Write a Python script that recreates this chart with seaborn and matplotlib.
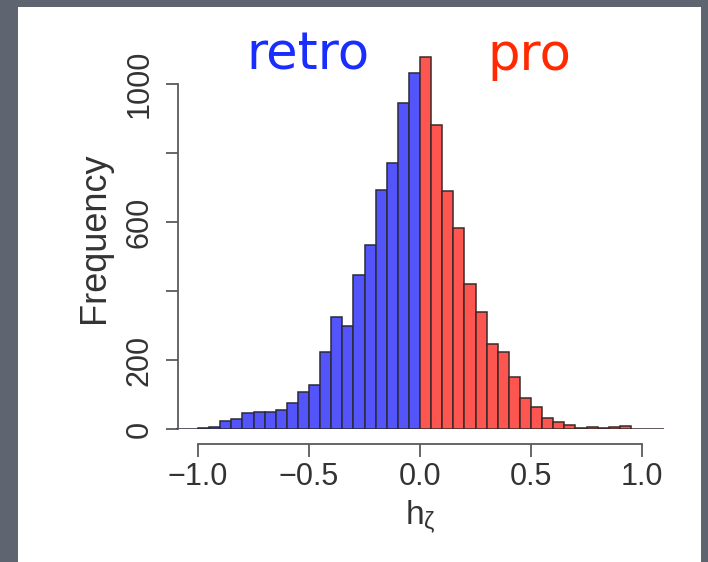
import matplotlib
matplotlib.use('Agg')
import matplotlib.pyplot as plt
import seaborn as sns
import numpy as np
import pandas as pd
from matplotlib.patches import Rectangle

# ---- data ----
bin_width = 0.05
retro_start = -1.1   # left edge of first retro bin
retro_counts = [0, 1, 2, 7, 23, 29, 47, 50, 50, 54, 75, 106, 128, 224, 325, 298,
                446, 533, 693, 770, 944, 1033]
pro_counts = [1079, 881, 690, 582, 420, 338, 245, 222, 152, 91, 65, 33, 19, 12,
              2, 5, 2, 5, 10, 0, 0, 0]
x_ticks = [-1.0, -0.5, 0.0, 0.5, 1.0]
x_tick_labels = ['\u22121.0', '\u22120.5', '0.0', '0.5', '1.0']
y_ticks = [0, 200, 400, 600, 800, 1000]
y_tick_labels = ['0', '200', '', '600', '', '1000']
retro_label = 'retro'
pro_label = 'pro'

sns.set_theme(style='white')
plt.rcParams['font.family'] = ['Liberation Sans', 'DejaVu Sans']

W, H = 708, 562
fig = plt.figure(figsize=(W / 100, H / 100), dpi=100, facecolor='#5f6471')
fig.patches.append(Rectangle((18 / W, 0), (701 - 18) / W, (H - 7) / H,
                             transform=fig.transFigure, facecolor='white',
                             edgecolor='none', zorder=-10))

# axes placement in pixels
xlim = (-1.1, 1.1)
ylim = (0, 1110)
px_left, px_right = 175.8, 664.2
px_bottom, px_top = 429, 46
ax = fig.add_axes([px_left / W, (H - px_bottom) / H,
                   (px_right - px_left) / W, (px_bottom - px_top) / H])
ax.set_facecolor('none')
ax.set_zorder(5)

n_r = len(retro_counts)
n_p = len(pro_counts)
retro_edges = [float(v) for v in retro_start + bin_width * np.arange(n_r + 1)]
pro_edges = [float(v) for v in retro_edges[-1] + bin_width * np.arange(n_p + 1)]
df_r = pd.DataFrame({'h': [(a + b) / 2 for a, b in zip(retro_edges[:-1], retro_edges[1:])],
                     'n': retro_counts})
df_p = pd.DataFrame({'h': [(a + b) / 2 for a, b in zip(pro_edges[:-1], pro_edges[1:])],
                     'n': pro_counts})

sns.histplot(data=df_r, x='h', weights='n', bins=retro_edges, color='#5454fb',
             alpha=1, edgecolor='#2a2a3a', linewidth=1.1, ax=ax)
sns.histplot(data=df_p, x='h', weights='n', bins=pro_edges, color='#fd5650',
             alpha=1, edgecolor='#3a2a2a', linewidth=1.1, ax=ax)

ax.set_xlim(*xlim)
ax.set_ylim(*ylim)
for s in ['top', 'right']:
    ax.spines[s].set_visible(False)
axis_col = '#5a5a5a'
ax.spines['left'].set_bounds(0, 1000)
ax.spines['left'].set_position(('data', -1.09))
ax.spines['bottom'].set_bounds(-1, 1)
ax.spines['bottom'].set_position(('outward', 11))
for s in ['left', 'bottom']:
    ax.spines[s].set_color(axis_col)
    ax.spines[s].set_linewidth(1.3)

ax.set_xticks(x_ticks)
ax.set_xticklabels(x_tick_labels)
ax.set_yticks(y_ticks)
ax.set_yticklabels(y_tick_labels)
ax.tick_params(axis='both', direction='out', length=9, width=1.3, color=axis_col,
               labelsize=22, labelcolor='#333333', bottom=True, left=True)
ax.tick_params(axis='x', pad=4)
ax.tick_params(axis='y', pad=8)
for lbl in ax.get_yticklabels():
    lbl.set_rotation(90)
    lbl.set_va('center')
    lbl.set_ha('right')

ax.set_xlabel(r'$\mathregular{h_{\zeta}}$', fontsize=24, color='#333333', labelpad=4)
ax.set_ylabel('Frequency', fontsize=26, color='#333333', labelpad=9)

fig.text(308 / W, 1 - 70 / H, retro_label, color='#1a2dff', fontsize=37,
         ha='center', va='baseline', family='DejaVu Sans')
fig.text(529 / W, 1 - 70 / H, pro_label, color='#ff2a00', fontsize=37,
         ha='center', va='baseline', family='DejaVu Sans')

fig.savefig('out.png', dpi=100, facecolor=fig.get_facecolor())
